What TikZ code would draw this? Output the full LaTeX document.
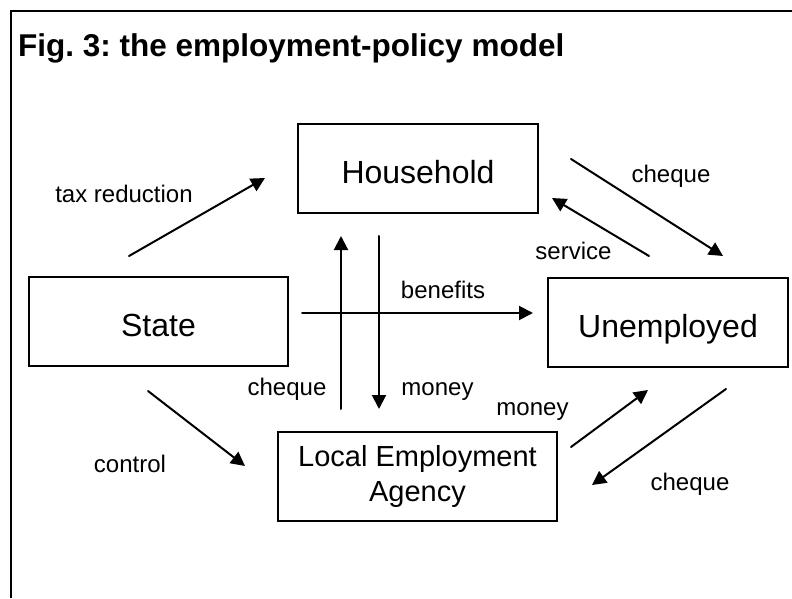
\documentclass[tikz,border=0pt]{standalone}
\usepackage{fontspec}
\setmainfont{Liberation Sans}
\usetikzlibrary{arrows.meta}

\tikzset{
  actor/.style={draw, line width=2pt, rectangle, minimum height=89pt, align=center,
    font=\fontsize{32}{37}\selectfont},
  oneline/.style={text height=29pt, text depth=0pt},
  flowlabel/.style={anchor=base, inner sep=0pt, font=\fontsize{24}{28}\selectfont},
  flow/.style={->, line width=2pt}
}

\begin{document}
\frenchspacing
\begin{tikzpicture}[x=10pt, y=10pt, line cap=round, line join=miter,
    >={Triangle[length=14pt,width=14pt]}]
		\useasboundingbox (0,0) rectangle (79.2,59.8);
		% frame (only top and left edge show)
		\draw[line width=2.2pt, line cap=butt] (1.1,0) -- (1.1,58.7) -- (79.2,58.7);
		\node[anchor=base west, inner sep=0pt, font=\bfseries\fontsize{31.5}{37}\selectfont]
		  (title) at (1.8,54.1) {Fig. 3: the employment-policy model};

		% actors
		\node[actor, oneline, minimum width=240pt] (household) at (41.8,42.9) {Household};
		\node[actor, oneline, minimum width=259pt] (state) at (15.85,27.65) {State};
		\node[actor, oneline, minimum width=240pt] (unemp) at (66.8,27.55) {Unemployed};
		\node[actor, minimum width=279pt, font=\fontsize{29}{35}\selectfont]
		  (agency) at (41.75,12.15) {Local Employment\\Agency};

		% ends of the flows
		\coordinate (tax-s) at (12.9,34.2);   \coordinate (tax-e) at (26.5,42.0);
		\coordinate (chq1-s) at (57.1,43.9);  \coordinate (chq1-e) at (72.3,34.2);
		\coordinate (serv-s) at (64.9,34.2);  \coordinate (serv-e) at (55.2,40.0);
		\coordinate (ben-s) at (30.2,28.5);   \coordinate (ben-e) at (53.3,28.5);
		\coordinate (chq2-s) at (34.1,18.9);  \coordinate (chq2-e) at (34.1,36.2);
		\coordinate (mon1-s) at (37.9,36.2);  \coordinate (mon1-e) at (37.9,18.9);
		\coordinate (ctrl-s) at (14.8,20.7);  \coordinate (ctrl-e) at (24.5,13.2);
		\coordinate (mon2-s) at (57.1,15.1);  \coordinate (mon2-e) at (64.8,20.8);
		\coordinate (chq3-s) at (72.6,20.9);  \coordinate (chq3-e) at (59.2,11.3);

		% flows
		\draw[flow] (tax-s) -- (tax-e);
		\draw[flow] (chq1-s) -- (chq1-e);
		\draw[flow] (serv-s) -- (serv-e);
		\draw[flow] (ben-s) -- (ben-e);
		\draw[flow] (chq2-s) -- (chq2-e);
		\draw[flow] (mon1-s) -- (mon1-e);
		\draw[flow] (ctrl-s) -- (ctrl-e);
		\draw[flow] (mon2-s) -- (mon2-e);
		\draw[flow] (chq3-s) -- (chq3-e);

		% labels of the flows
		\node[flowlabel] (tax-l) at (12.4,39.5) {tax reduction};
		\node[flowlabel] (chq1-l) at (67.1,41.5) {cheque};
		\node[flowlabel] (serv-l) at (57.35,33.8) {service};
		\node[flowlabel] (ben-l) at (44.3,30.0) {benefits};
		\node[flowlabel] (chq2-l) at (28.7,20.3) {cheque};
		\node[flowlabel] (mon1-l) at (43.75,20.3) {money};
		\node[flowlabel] (mon2-l) at (53.25,18.3) {money};
		\node[flowlabel] (ctrl-l) at (13.0,12.6) {control};
		\node[flowlabel] (chq3-l) at (69.0,10.8) {cheque};
	\end{tikzpicture}
\end{document}
